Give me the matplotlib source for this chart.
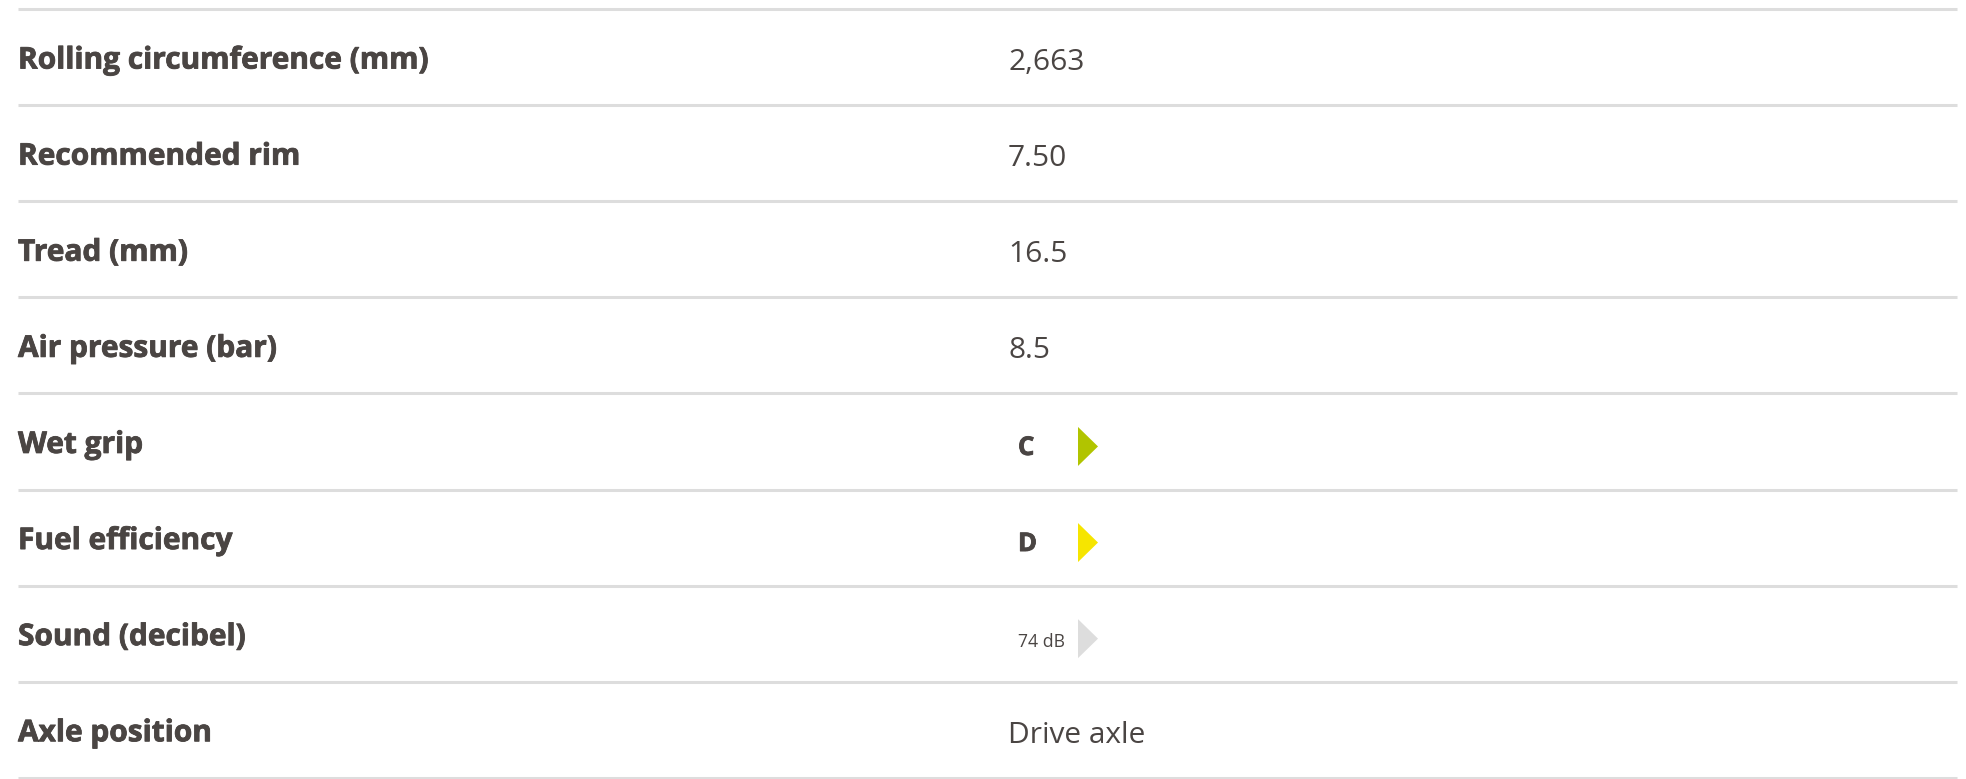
import matplotlib.pyplot as plt
import matplotlib.patheffects as pe
from matplotlib.patches import Polygon

# Tyre specs table
labels = ["Rolling circumference (mm)", "Recommended rim", "Tread (mm)",
          "Air pressure (bar)", "Wet grip", "Fuel efficiency",
          "Sound (decibel)", "Axle position"]
values = ["2,663", "7.50", "16.5", "8.5", "C", "D", "74 dB", "Drive axle"]
# rows that show a label arrow: row index -> arrow colour
arrow_colors = {4: "#b1c400", 5: "#f6e500", 6: "#dddddd"}

text_color = "#4a4543"
line_color = "#dddddd"
heavy = [pe.withStroke(linewidth=0.6, foreground=text_color)]

fig = plt.figure(figsize=(19.66, 7.79), dpi=100)
ax = fig.add_axes([0, 0, 1, 1])
ax.set_xlim(0, 1966)
ax.set_ylim(779, 0)
ax.axis("off")

top, step = 9, 96.1
x0, x1 = 18, 1957
xval = 1008

for i in range(len(labels) + 1):
    y = top + i * step
    ax.plot([x0, x1], [y, y], color=line_color, lw=2.2, solid_capstyle="butt")

for i, (lab, val) in enumerate(zip(labels, values)):
    yc = top + (i + 0.5) * step
    ax.text(x0, yc + 11.5, lab, fontsize=21.5, fontweight="bold", family="Open Sans",
            color=text_color, va="baseline", ha="left", path_effects=heavy)
    if i in arrow_colors:
        ya = yc + 5
        if val.endswith("dB"):
            ax.text(1018, yc + 13, val, fontsize=12.7, family="Open Sans",
                    color=text_color, va="baseline", ha="left")
        else:
            ax.text(1018, yc + 13.5, val, fontsize=18.5, fontweight="bold", family="Open Sans",
                    color=text_color, va="baseline", ha="left", path_effects=heavy)
        tri = Polygon([[1078, ya - 19.5], [1078, ya + 19.5], [1098, ya]],
                      closed=True, color=arrow_colors[i], lw=0)
        ax.add_patch(tri)
    else:
        ax.text(xval, yc + 13, val, fontsize=21.5, family="Open Sans",
                color=text_color, va="baseline", ha="left")

fig.savefig("out.png", dpi=100, facecolor="white")
